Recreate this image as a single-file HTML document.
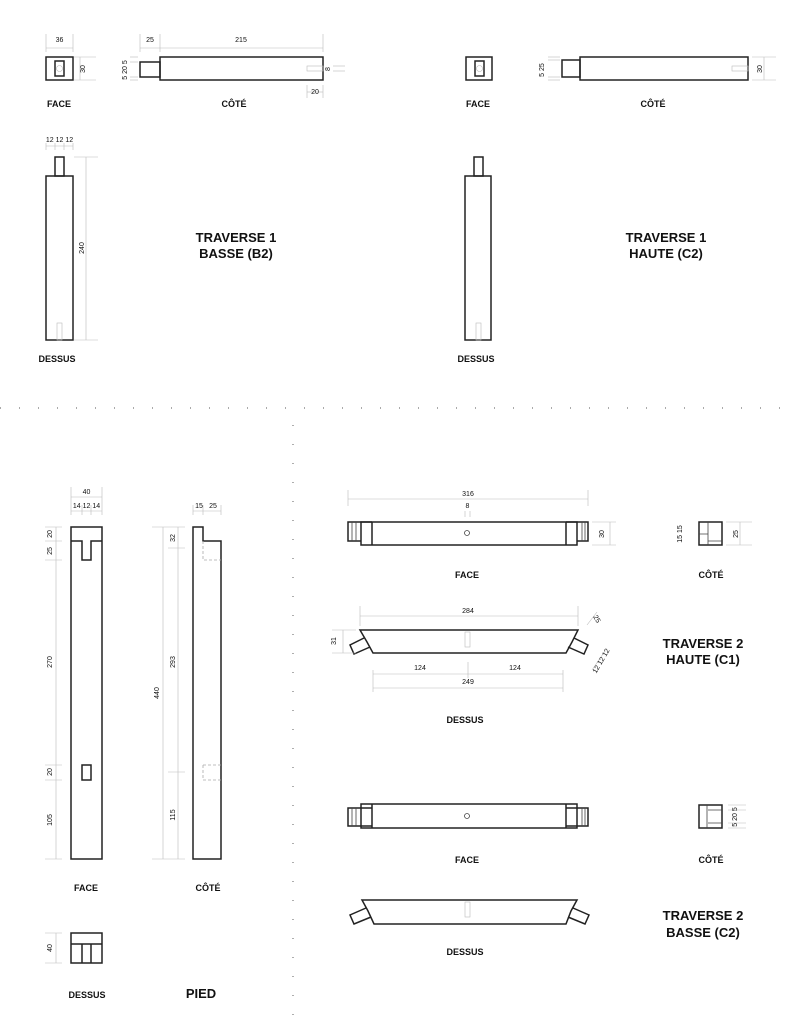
<!DOCTYPE html>
<html><head><meta charset="utf-8"><style>
html,body{margin:0;padding:0;background:#fff}
svg{display:block}
.o{fill:none;stroke:#222;stroke-width:1.5}
.t{fill:none;stroke:#444;stroke-width:0.8}
.d{fill:none;stroke:#bbb;stroke-width:0.6}
.h{fill:none;stroke:#aaa;stroke-width:0.8;stroke-dasharray:3,2}
text{font-family:"Liberation Sans",sans-serif;fill:#111}
.s{font-size:7px}
.l{font-size:9px;font-weight:bold}
.b{font-size:13px;font-weight:bold}
</style></head><body>
<svg width="794" height="1024" viewBox="0 0 794 1024" xmlns="http://www.w3.org/2000/svg">
<!-- separators -->
<line x1="0" y1="408" x2="794" y2="408" stroke="#777" stroke-width="1.2" stroke-dasharray="1,18"/>
<line x1="293" y1="425" x2="293" y2="1020" stroke="#777" stroke-width="1.2" stroke-dasharray="1,18"/>

<!-- ===== TRAVERSE 1 BASSE ===== -->
<rect class="o" x="46" y="57" width="27" height="23"/>
<rect class="o" x="55" y="61" width="9" height="15"/>
<circle class="d" cx="59.5" cy="68.5" r="3"/>
<line class="d" x1="46" y1="48" x2="73" y2="48"/><line class="d" x1="46" y1="34" x2="46" y2="52"/><line class="d" x1="73" y1="34" x2="73" y2="52"/>
<text class="s" x="59.5" y="42" text-anchor="middle">36</text>
<line class="d" x1="80" y1="57" x2="80" y2="80"/><line class="d" x1="74" y1="57" x2="96" y2="57"/><line class="d" x1="74" y1="80" x2="96" y2="80"/>
<text class="s" transform="translate(85,69) rotate(-90)" text-anchor="middle">30</text>
<rect class="o" x="140" y="62" width="20" height="15"/>
<rect class="o" x="160" y="57" width="163" height="23"/>
<rect class="d" x="307" y="66" width="16" height="5"/>
<line class="d" x1="140" y1="48" x2="323" y2="48"/><line class="d" x1="140" y1="34" x2="140" y2="52"/><line class="d" x1="160" y1="34" x2="160" y2="52"/><line class="d" x1="323" y1="34" x2="323" y2="52"/>
<text class="s" x="150" y="42" text-anchor="middle">25</text><text class="s" x="241" y="42" text-anchor="middle">215</text>
<line class="d" x1="130" y1="57" x2="138" y2="57"/><line class="d" x1="130" y1="62" x2="138" y2="62"/><line class="d" x1="130" y1="77" x2="138" y2="77"/><line class="d" x1="130" y1="80" x2="138" y2="80"/>
<text class="s" transform="translate(127,70) rotate(-90)" text-anchor="middle">5 20 5</text>
<line class="d" x1="307" y1="92" x2="323" y2="92"/><line class="d" x1="307" y1="85" x2="307" y2="98"/><line class="d" x1="323" y1="85" x2="323" y2="98"/>
<text class="s" x="315" y="94" text-anchor="middle">20</text>
<line class="d" x1="333" y1="66" x2="345" y2="66"/><line class="d" x1="333" y1="71" x2="345" y2="71"/>
<text class="s" transform="translate(330,69) rotate(-90)" text-anchor="middle">8</text>
<text class="l" x="59" y="107" text-anchor="middle">FACE</text>
<text class="l" x="234" y="107" text-anchor="middle">CÔTÉ</text>
<rect class="o" x="55" y="157" width="9" height="19"/>
<rect class="o" x="46" y="176" width="27" height="164"/>
<rect class="d" x="57" y="323" width="5" height="17"/>
<line class="d" x1="46" y1="146" x2="73" y2="146"/><line class="d" x1="46" y1="143" x2="46" y2="150"/><line class="d" x1="55" y1="143" x2="55" y2="150"/><line class="d" x1="64" y1="143" x2="64" y2="150"/><line class="d" x1="73" y1="143" x2="73" y2="150"/>
<text class="s" x="59.5" y="142" text-anchor="middle">12 12 12</text>
<line class="d" x1="86" y1="157" x2="86" y2="340"/><line class="d" x1="74" y1="157" x2="98" y2="157"/><line class="d" x1="74" y1="340" x2="98" y2="340"/>
<text class="s" transform="translate(84,248) rotate(-90)" text-anchor="middle">240</text>
<text class="l" x="57" y="362" text-anchor="middle">DESSUS</text>
<text class="b" x="236" y="242" text-anchor="middle">TRAVERSE 1</text>
<text class="b" x="236" y="258" text-anchor="middle">BASSE (B2)</text>

<!-- ===== TRAVERSE 1 HAUTE ===== -->
<rect class="o" x="466" y="57" width="26" height="23"/>
<rect class="o" x="475" y="61" width="9" height="15"/>
<circle class="d" cx="479.5" cy="68.5" r="3"/>
<rect class="o" x="562" y="60" width="18" height="17"/>
<rect class="o" x="580" y="57" width="168" height="23"/>
<rect class="d" x="732" y="66" width="16" height="5"/>
<line class="d" x1="548" y1="57" x2="560" y2="57"/><line class="d" x1="548" y1="60" x2="560" y2="60"/><line class="d" x1="548" y1="77" x2="560" y2="77"/><line class="d" x1="548" y1="80" x2="560" y2="80"/>
<text class="s" transform="translate(544,70) rotate(-90)" text-anchor="middle">5  25</text>
<line class="d" x1="764" y1="57" x2="764" y2="80"/><line class="d" x1="752" y1="57" x2="776" y2="57"/><line class="d" x1="752" y1="80" x2="776" y2="80"/>
<text class="s" transform="translate(762,69) rotate(-90)" text-anchor="middle">30</text>
<text class="l" x="478" y="107" text-anchor="middle">FACE</text>
<text class="l" x="653" y="107" text-anchor="middle">CÔTÉ</text>
<rect class="o" x="474" y="157" width="9" height="19"/>
<rect class="o" x="465" y="176" width="26" height="164"/>
<rect class="d" x="476" y="323" width="5" height="17"/>
<text class="l" x="476" y="362" text-anchor="middle">DESSUS</text>
<text class="b" x="666" y="242" text-anchor="middle">TRAVERSE 1</text>
<text class="b" x="666" y="258" text-anchor="middle">HAUTE (C2)</text>

<!-- ===== PIED ===== -->
<path class="o" d="M71,527 H102 V859 H71 Z M71,541 H82 V560 H91 V541 H102"/>
<rect class="o" x="82" y="765" width="9" height="15"/>
<line class="d" x1="71" y1="497" x2="102" y2="497"/><line class="d" x1="71" y1="487" x2="71" y2="515"/><line class="d" x1="102" y1="487" x2="102" y2="515"/>
<text class="s" x="86.5" y="494" text-anchor="middle">40</text>
<line class="d" x1="71" y1="511" x2="102" y2="511"/><line class="d" x1="82" y1="505" x2="82" y2="515"/><line class="d" x1="91" y1="505" x2="91" y2="515"/>
<text class="s" x="86.5" y="508" text-anchor="middle">14 12 14</text>
<line class="d" x1="56" y1="527" x2="56" y2="859"/>
<line class="d" x1="45" y1="527" x2="62" y2="527"/><line class="d" x1="45" y1="541" x2="62" y2="541"/><line class="d" x1="45" y1="560" x2="62" y2="560"/><line class="d" x1="45" y1="765" x2="62" y2="765"/><line class="d" x1="45" y1="780" x2="62" y2="780"/><line class="d" x1="45" y1="859" x2="62" y2="859"/>
<text class="s" transform="translate(52,534) rotate(-90)" text-anchor="middle">20</text>
<text class="s" transform="translate(52,551) rotate(-90)" text-anchor="middle">25</text>
<text class="s" transform="translate(52,662) rotate(-90)" text-anchor="middle">270</text>
<text class="s" transform="translate(52,772) rotate(-90)" text-anchor="middle">20</text>
<text class="s" transform="translate(52,820) rotate(-90)" text-anchor="middle">105</text>
<path class="o" d="M193,527 H203 V541 H221 V859 H193 Z"/>
<path class="h" d="M203,541 V560 H221 M203,765 H221 M203,765 V780 H221"/>
<line class="d" x1="193" y1="511" x2="221" y2="511"/><line class="d" x1="193" y1="505" x2="193" y2="515"/><line class="d" x1="203" y1="505" x2="203" y2="515"/><line class="d" x1="221" y1="505" x2="221" y2="515"/>
<text class="s" x="199" y="508" text-anchor="middle">15</text><text class="s" x="213" y="508" text-anchor="middle">25</text>
<line class="d" x1="163" y1="527" x2="163" y2="859"/><line class="d" x1="178" y1="527" x2="178" y2="859"/>
<line class="d" x1="152" y1="527" x2="185" y2="527"/><line class="d" x1="168" y1="548" x2="185" y2="548"/><line class="d" x1="168" y1="772" x2="185" y2="772"/><line class="d" x1="152" y1="859" x2="185" y2="859"/>
<text class="s" transform="translate(159,693) rotate(-90)" text-anchor="middle">440</text>
<text class="s" transform="translate(175,538) rotate(-90)" text-anchor="middle">32</text>
<text class="s" transform="translate(175,662) rotate(-90)" text-anchor="middle">293</text>
<text class="s" transform="translate(175,815) rotate(-90)" text-anchor="middle">115</text>
<text class="l" x="86" y="891" text-anchor="middle">FACE</text>
<text class="l" x="208" y="891" text-anchor="middle">CÔTÉ</text>
<path class="o" d="M71,933 H102 V963 H71 Z M71,944 H102 M82,944 V963 M91,944 V963"/>
<line class="d" x1="56" y1="933" x2="56" y2="963"/><line class="d" x1="45" y1="933" x2="62" y2="933"/><line class="d" x1="45" y1="963" x2="62" y2="963"/>
<text class="s" transform="translate(52,948) rotate(-90)" text-anchor="middle">40</text>
<text class="l" x="87" y="998" text-anchor="middle">DESSUS</text>
<text class="b" x="201" y="998" text-anchor="middle">PIED</text>

<!-- ===== TRAVERSE 2 HAUTE ===== -->
<rect class="o" x="361" y="522" width="216" height="23"/>
<path class="o" d="M372,522 H348 V541 H361 M566,522 H588 V541 H577 M372,522 V545 M566,522 V545"/>
<path class="t" d="M352,522 V541 M356,522 V541 M582,522 V541 M585,522 V541"/>
<circle class="t" cx="467" cy="533" r="2.5"/>
<line class="d" x1="348" y1="499" x2="588" y2="499"/><line class="d" x1="348" y1="490" x2="348" y2="506"/><line class="d" x1="588" y1="490" x2="588" y2="506"/>
<text class="s" x="468" y="496" text-anchor="middle">316</text>
<line class="d" x1="465" y1="511" x2="465" y2="517"/><line class="d" x1="470" y1="511" x2="470" y2="517"/>
<text class="s" x="467.5" y="508" text-anchor="middle">8</text>
<line class="d" x1="610" y1="522" x2="610" y2="545"/><line class="d" x1="592" y1="522" x2="616" y2="522"/><line class="d" x1="592" y1="545" x2="616" y2="545"/>
<text class="s" transform="translate(604,534) rotate(-90)" text-anchor="middle">30</text>
<rect class="o" x="699" y="522" width="23" height="23"/>
<path class="t" d="M708,522 V545 M699,534 H708 M708,541 H722"/>
<text class="s" transform="translate(682,534) rotate(-90)" text-anchor="middle">15 15</text>
<line class="d" x1="740" y1="522" x2="740" y2="545"/><line class="d" x1="726" y1="522" x2="752" y2="522"/><line class="d" x1="726" y1="545" x2="752" y2="545"/>
<text class="s" transform="translate(738,534) rotate(-90)" text-anchor="middle">25</text>
<text class="l" x="467" y="578" text-anchor="middle">FACE</text>
<text class="l" x="711" y="578" text-anchor="middle">CÔTÉ</text>
<path class="o" d="M360,630 H578 L572,642 L566,653 H373 L367,642 Z"/>
<path class="o" d="M364,638 L350,645 L354,654 L370,647"/>
<path class="o" d="M574,638 L588,645 L584,654 L568,647"/>
<rect class="d" x="465" y="632" width="5" height="15"/>
<line class="d" x1="360" y1="616" x2="578" y2="616"/><line class="d" x1="360" y1="606" x2="360" y2="626"/><line class="d" x1="578" y1="606" x2="578" y2="626"/>
<text class="s" x="468" y="613" text-anchor="middle">284</text>
<line class="d" x1="343" y1="630" x2="343" y2="653"/><line class="d" x1="332" y1="630" x2="356" y2="630"/><line class="d" x1="332" y1="653" x2="356" y2="653"/>
<text class="s" transform="translate(336,641) rotate(-90)" text-anchor="middle">31</text>
<line class="d" x1="587" y1="625" x2="597" y2="612"/>
<text class="s" transform="translate(595,620) rotate(60)" text-anchor="middle">25</text>
<line class="d" x1="592" y1="670" x2="605" y2="651"/>
<text class="s" transform="translate(603,662) rotate(-60)" text-anchor="middle">12 12 12</text>
<line class="d" x1="373" y1="674" x2="563" y2="674"/><line class="d" x1="468" y1="662" x2="468" y2="678"/>
<text class="s" x="420" y="670" text-anchor="middle">124</text><text class="s" x="515" y="670" text-anchor="middle">124</text>
<line class="d" x1="373" y1="688" x2="563" y2="688"/><line class="d" x1="373" y1="670" x2="373" y2="692"/><line class="d" x1="563" y1="670" x2="563" y2="692"/>
<text class="s" x="468" y="684" text-anchor="middle">249</text>
<text class="l" x="465" y="723" text-anchor="middle">DESSUS</text>
<text class="b" x="703" y="648" text-anchor="middle">TRAVERSE 2</text>
<text class="b" x="703" y="664" text-anchor="middle">HAUTE (C1)</text>

<!-- ===== TRAVERSE 2 BASSE ===== -->
<rect class="o" x="361" y="804" width="216" height="24"/>
<path class="o" d="M372,808 H348 V826 H372 M566,808 H588 V826 H566 M372,804 V828 M566,804 V828"/>
<path class="t" d="M352,808 V826 M356,808 V826 M582,808 V826 M585,808 V826"/>
<circle class="t" cx="467" cy="816" r="2.5"/>
<rect class="o" x="699" y="805" width="23" height="23"/>
<path class="t" d="M707,805 V828 M708,810 H722 M708,823 H722"/>
<line class="d" x1="728" y1="805" x2="746" y2="805"/><line class="d" x1="728" y1="810" x2="746" y2="810"/><line class="d" x1="728" y1="823" x2="746" y2="823"/><line class="d" x1="728" y1="828" x2="746" y2="828"/>
<text class="s" transform="translate(737,817) rotate(-90)" text-anchor="middle">5 20 5</text>
<text class="l" x="467" y="863" text-anchor="middle">FACE</text>
<text class="l" x="711" y="863" text-anchor="middle">CÔTÉ</text>
<path class="o" d="M362,900 H577 L571,911 L566,924 H374 L368,911 Z"/>
<path class="o" d="M366,908 L350,915 L354,924 L371,917"/>
<path class="o" d="M573,908 L589,915 L585,924 L568,917"/>
<rect class="d" x="465" y="902" width="5" height="15"/>
<text class="l" x="465" y="955" text-anchor="middle">DESSUS</text>
<text class="b" x="703" y="920" text-anchor="middle">TRAVERSE 2</text>
<text class="b" x="703" y="937" text-anchor="middle">BASSE (C2)</text>
</svg>
</body></html>
